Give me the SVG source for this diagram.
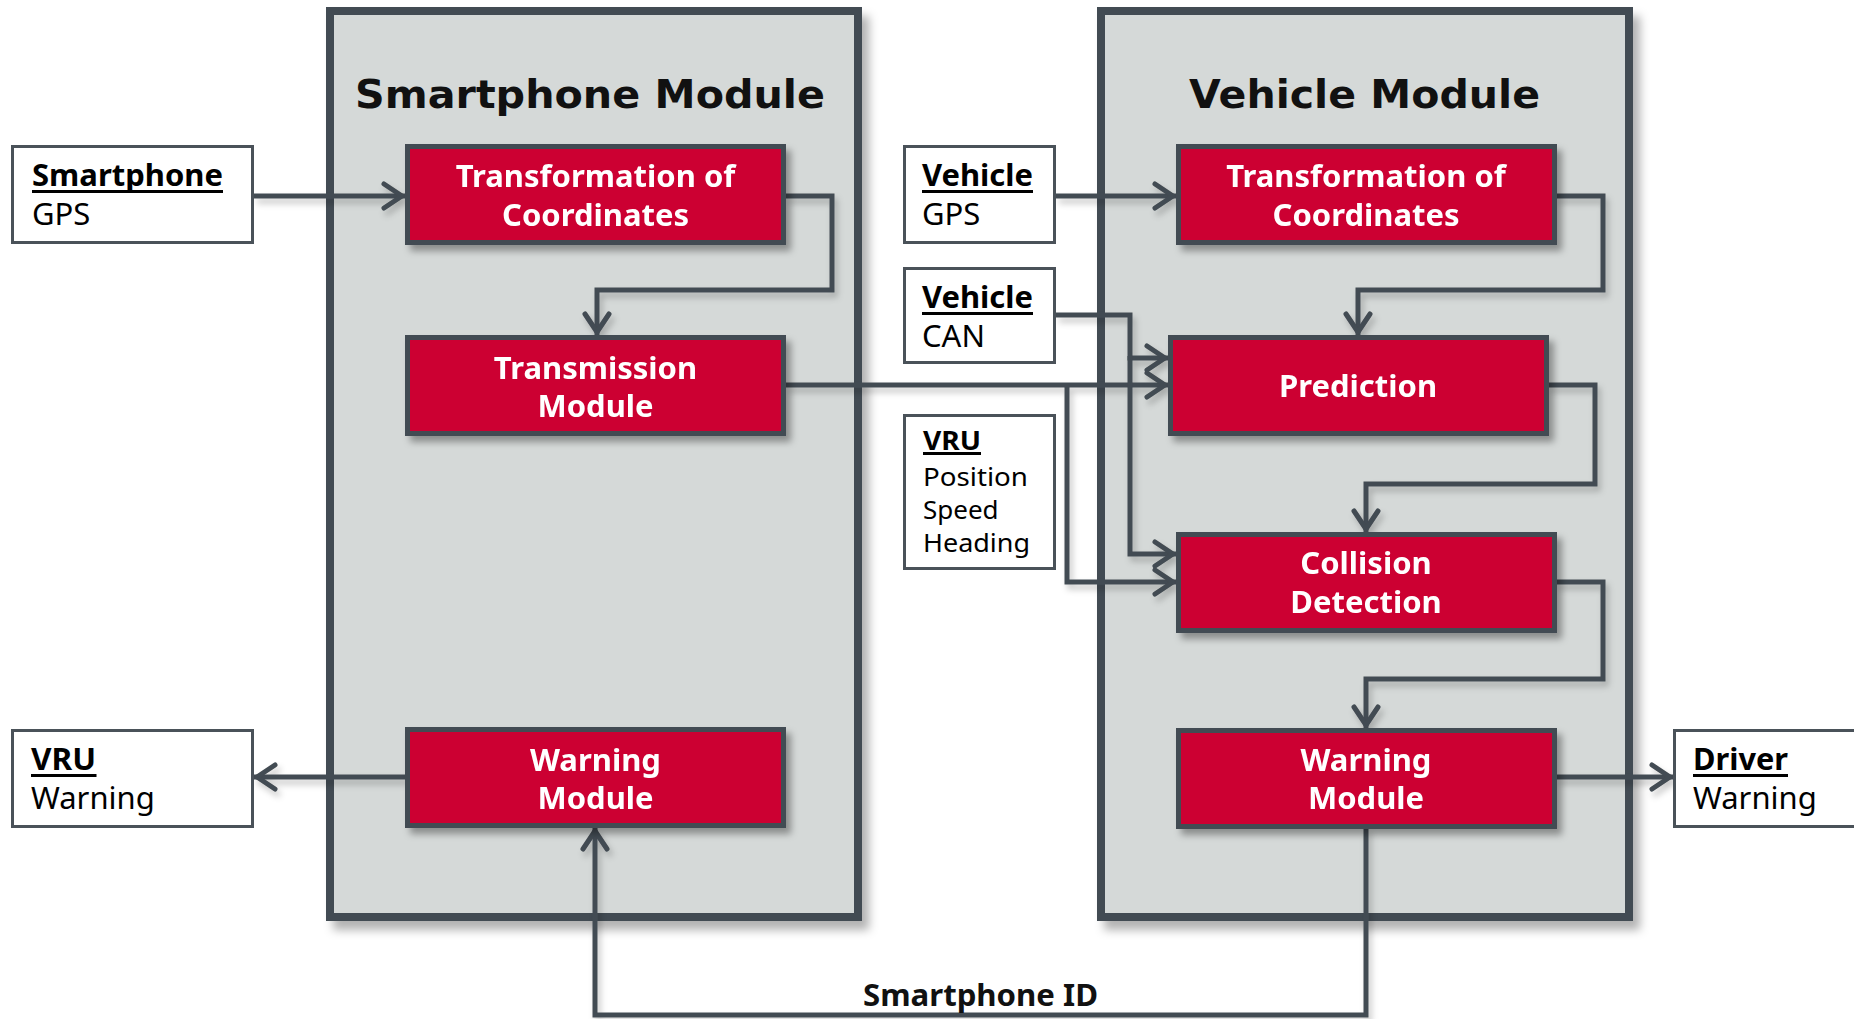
<svg xmlns="http://www.w3.org/2000/svg" width="1854" height="1019" viewBox="0 0 1854 1019">
  <defs>
    <style>
      .module { fill: #d5d9d8; stroke: #434b52; stroke-width: 8; }
      .title { font-family: "DejaVu Sans", "Liberation Sans", sans-serif; font-weight: bold; font-size: 39px; fill: #111; }
      .block { fill: #cc0033; stroke: #434b52; stroke-width: 5; }
      .blabel { font-family: "Noto Sans", "Open Sans", sans-serif; font-weight: bold; font-size: 31px; fill: #fff; text-anchor: middle; }
      .io { fill: #fff; stroke: #4a5259; stroke-width: 3; }
      .iohead { font-family: "Noto Sans", "Open Sans", sans-serif; font-weight: bold; font-size: 31px; fill: #000; }
      .iotext { font-family: "Noto Sans", "Open Sans", sans-serif; font-size: 31px; fill: #000; }
      .small { font-size: 26px; }
      .uline { stroke: #000; stroke-width: 3; }
      .wire { fill: none; stroke: #434b52; stroke-width: 5; stroke-linejoin: miter; }
      .arrow { marker-end: url(#chev); }
      .cap { font-family: "Noto Sans", "Open Sans", sans-serif; font-weight: bold; font-size: 30px; fill: #111; }
    </style>
    <filter id="shadowBig" x="-10%" y="-10%" width="130%" height="130%">
      <feDropShadow dx="7" dy="9" stdDeviation="5" flood-color="#000" flood-opacity="0.3"/>
    </filter>
    <filter id="shadowBox" x="-10%" y="-20%" width="130%" height="150%">
      <feDropShadow dx="5" dy="6" stdDeviation="3.5" flood-color="#000" flood-opacity="0.35"/>
    </filter>
    <filter id="shadowWire" x="-10%" y="-10%" width="130%" height="130%">
      <feDropShadow dx="3" dy="5" stdDeviation="3" flood-color="#000" flood-opacity="0.22"/>
    </filter>
    <marker id="chev" markerUnits="userSpaceOnUse" markerWidth="40" markerHeight="40" refX="0" refY="0" orient="auto" overflow="visible">
      <path d="M-21,-12 L-3,0 L-21,12" fill="none" stroke="#434b52" stroke-width="5" stroke-linecap="round" stroke-linejoin="round"/>
    </marker>
  </defs>

  <!-- module containers -->
  <g id="smartphone-module" filter="url(#shadowBig)">
    <rect class="module" x="330" y="11" width="528" height="906"/>
  </g>
  <g id="vehicle-module" filter="url(#shadowBig)">
    <rect class="module" x="1101" y="11" width="528" height="906"/>
  </g>
  <text class="title" x="355" y="108" textLength="470" lengthAdjust="spacingAndGlyphs">Smartphone Module</text>
  <text class="title" x="1189" y="108" textLength="351" lengthAdjust="spacingAndGlyphs">Vehicle Module</text>

  <!-- connectors -->
  <g id="connectors" filter="url(#shadowWire)">
    <path class="wire arrow" d="M254,196 H405"/>
    <path class="wire arrow" d="M786,196 H832 V290 H597 V335"/>
    <path class="wire arrow" d="M786,385 H1168"/>
    <path class="wire arrow" d="M1067,385 V582 H1176"/>
    <path class="wire arrow" d="M1056,196 H1176"/>
    <path class="wire arrow" d="M1056,315 H1130 V358 H1168"/>
    <path class="wire arrow" d="M1130,356 V554 H1176"/>
    <path class="wire arrow" d="M1556,196 H1603 V290 H1358 V335"/>
    <path class="wire arrow" d="M1548,385 H1595 V484 H1366 V532"/>
    <path class="wire arrow" d="M1556,582 H1603 V679 H1366 V728"/>
    <path class="wire arrow" d="M1556,777 H1673"/>
    <path class="wire arrow" d="M405,777 H254"/>
    <path class="wire arrow" d="M1366,828 V1015 H595 V828"/>
  </g>
  <text class="cap" x="863" y="1006" textLength="235" lengthAdjust="spacingAndGlyphs">Smartphone ID</text>

  <!-- smartphone-side blocks -->
  <g id="sp-transform" filter="url(#shadowBox)">
    <rect class="block" x="407.5" y="146.5" width="376" height="96"/>
    <text class="blabel" x="595.5" y="187">Transformation of</text>
    <text class="blabel" x="595.5" y="226">Coordinates</text>
  </g>
  <g id="sp-transmission" filter="url(#shadowBox)">
    <rect class="block" x="407.5" y="337.5" width="376" height="96"/>
    <text class="blabel" x="595.5" y="379">Transmission</text>
    <text class="blabel" x="595.5" y="417">Module</text>
  </g>
  <g id="sp-warning" filter="url(#shadowBox)">
    <rect class="block" x="407.5" y="729.5" width="376" height="96"/>
    <text class="blabel" x="595.5" y="771">Warning</text>
    <text class="blabel" x="595.5" y="809">Module</text>
  </g>

  <!-- vehicle-side blocks -->
  <g id="v-transform" filter="url(#shadowBox)">
    <rect class="block" x="1178.5" y="146.5" width="376" height="96"/>
    <text class="blabel" x="1366" y="187">Transformation of</text>
    <text class="blabel" x="1366" y="226">Coordinates</text>
  </g>
  <g id="v-prediction" filter="url(#shadowBox)">
    <rect class="block" x="1170.5" y="337.5" width="376" height="96"/>
    <text class="blabel" x="1358" y="397">Prediction</text>
  </g>
  <g id="v-collision" filter="url(#shadowBox)">
    <rect class="block" x="1178.5" y="534.5" width="376" height="96"/>
    <text class="blabel" x="1366" y="574">Collision</text>
    <text class="blabel" x="1366" y="613">Detection</text>
  </g>
  <g id="v-warning" filter="url(#shadowBox)">
    <rect class="block" x="1178.5" y="730.5" width="376" height="96"/>
    <text class="blabel" x="1366" y="771">Warning</text>
    <text class="blabel" x="1366" y="809">Module</text>
  </g>

  <!-- inputs and outputs -->
  <g id="in-smartphone-gps">
    <rect class="io" x="12.5" y="146.5" width="240" height="96"/>
    <text class="iohead" x="32" y="186" textLength="191" lengthAdjust="spacingAndGlyphs">Smartphone</text>
    <line class="uline" x1="32" y1="191.5" x2="223" y2="191.5"/>
    <text class="iotext" x="32" y="225">GPS</text>
  </g>
  <g id="out-vru-warning">
    <rect class="io" x="12.5" y="730.5" width="240" height="96"/>
    <text class="iohead" x="31" y="770" textLength="65" lengthAdjust="spacingAndGlyphs">VRU</text>
    <line class="uline" x1="31" y1="775.5" x2="96.5" y2="775.5"/>
    <text class="iotext" x="31" y="809">Warning</text>
  </g>
  <g id="in-vehicle-gps">
    <rect class="io" x="904.5" y="146.5" width="150" height="96"/>
    <text class="iohead" x="922" y="186" textLength="111" lengthAdjust="spacingAndGlyphs">Vehicle</text>
    <line class="uline" x1="922" y1="191.5" x2="1033" y2="191.5"/>
    <text class="iotext" x="922" y="225">GPS</text>
  </g>
  <g id="in-vehicle-can">
    <rect class="io" x="904.5" y="268.5" width="150" height="94"/>
    <text class="iohead" x="922" y="308" textLength="111" lengthAdjust="spacingAndGlyphs">Vehicle</text>
    <line class="uline" x1="922" y1="313.5" x2="1033" y2="313.5"/>
    <text class="iotext" x="922" y="347">CAN</text>
  </g>
  <g id="in-vru">
    <rect class="io" x="904.5" y="415.5" width="150" height="153"/>
    <text class="iohead small" x="923" y="450" textLength="58" lengthAdjust="spacingAndGlyphs">VRU</text>
    <line class="uline" x1="923" y1="453.5" x2="981" y2="453.5"/>
    <text class="iotext small" x="923" y="486" textLength="105" lengthAdjust="spacingAndGlyphs">Position</text>
    <text class="iotext small" x="923" y="519">Speed</text>
    <text class="iotext small" x="923" y="552" textLength="107" lengthAdjust="spacingAndGlyphs">Heading</text>
  </g>
  <g id="out-driver-warning">
    <rect class="io" x="1674.5" y="730.5" width="220" height="96"/>
    <text class="iohead" x="1693" y="770" textLength="95" lengthAdjust="spacingAndGlyphs">Driver</text>
    <line class="uline" x1="1693" y1="775.5" x2="1788" y2="775.5"/>
    <text class="iotext" x="1693" y="809">Warning</text>
  </g>
</svg>
